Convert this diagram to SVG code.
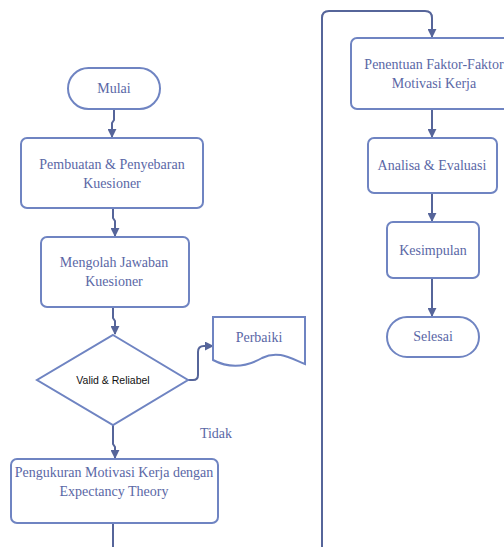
<svg xmlns="http://www.w3.org/2000/svg" width="504" height="547" viewBox="0 0 504 547">
  <style>
    .shape { fill: #ffffff; stroke: #6f84c2; stroke-width: 2; }
    .conn { fill: none; stroke: #56659a; stroke-width: 2; }
    .lbl { font-family: 'Liberation Serif', 'Times New Roman', 'DejaVu Serif', serif; font-size: 14px; fill: #5a67a6; text-anchor: middle; }
    .dlbl { font-family: 'Liberation Sans', Arial, sans-serif; font-size: 10.5px; fill: #111111; text-anchor: middle; }
  </style>
  <defs>
    <marker id="arrow" viewBox="0 0 10 10" refX="9" refY="5" markerWidth="4.5" markerHeight="4.5" orient="auto">
      <path d="M0,0 L10,5 L0,10 z" fill="#56659a"/>
    </marker>
  </defs>

  <g id="connectors">
    <path class="conn" d="M114,109 V120 L112,123 V137" marker-end="url(#arrow)"/>
    <path class="conn" d="M113,208 V218 L115,221 V236" marker-end="url(#arrow)"/>
    <path class="conn" d="M113,307 V318 L115,321 V334" marker-end="url(#arrow)"/>
    <path class="conn" d="M188,380 H193 Q198,380 198,375 V352 Q198,346 204,346 H213" marker-end="url(#arrow)"/>
    <path class="conn" d="M113,425 V444 L115,447 V458" marker-end="url(#arrow)"/>
    <path class="conn" d="M113,523 V547"/>
    <path class="conn" d="M322,547 V18 Q322,11 329,11 H425 Q432,11 432,18 V37" marker-end="url(#arrow)"/>
    <path class="conn" d="M432,109 V137" marker-end="url(#arrow)"/>
    <path class="conn" d="M432,193 V221" marker-end="url(#arrow)"/>
    <path class="conn" d="M432,278 V316" marker-end="url(#arrow)"/>
  </g>

  <g id="mulai">
    <rect class="shape" x="68" y="68" width="92" height="41" rx="20.5"/>
    <text class="lbl" x="114" y="93" font-family="Liberation Serif, serif">Mulai</text>
  </g>

  <g id="pembuatan">
    <rect class="shape" x="21" y="138" width="182" height="70" rx="6"/>
    <text class="lbl" x="112" y="169" font-family="Liberation Serif, serif">Pembuatan &amp; Penyebaran</text>
    <text class="lbl" x="112" y="188" font-family="Liberation Serif, serif">Kuesioner</text>
  </g>

  <g id="mengolah">
    <rect class="shape" x="41" y="237" width="148" height="70" rx="6"/>
    <text class="lbl" x="114" y="267" font-family="Liberation Serif, serif">Mengolah Jawaban</text>
    <text class="lbl" x="114" y="286" font-family="Liberation Serif, serif">Kuesioner</text>
  </g>

  <g id="valid">
    <polygon class="shape" points="113,335 188,380 113,425 37,380"/>
    <text class="dlbl" x="113" y="384">Valid &amp; Reliabel</text>
  </g>

  <g id="perbaiki">
    <path class="shape" d="M213,317 H305 V364 C290,358 278,350 262,358 C248,366 232,370 213,360 Z"/>
    <text class="lbl" x="259" y="342" font-family="Liberation Serif, serif">Perbaiki</text>
  </g>

  <g id="tidak">
    <text class="lbl" x="216" y="438" font-family="Liberation Serif, serif">Tidak</text>
  </g>

  <g id="pengukuran">
    <rect class="shape" x="11" y="459" width="207" height="64" rx="6"/>
    <text class="lbl" x="114" y="477" font-family="Liberation Serif, serif">Pengukuran Motivasi Kerja dengan</text>
    <text class="lbl" x="114" y="496" font-family="Liberation Serif, serif">Expectancy Theory</text>
  </g>

  <g id="penentuan">
    <rect class="shape" x="351" y="38" width="166" height="71" rx="6"/>
    <text class="lbl" x="434" y="69" font-family="Liberation Serif, serif">Penentuan Faktor-Faktor</text>
    <text class="lbl" x="434" y="88" font-family="Liberation Serif, serif">Motivasi Kerja</text>
  </g>

  <g id="analisa">
    <rect class="shape" x="368" y="138" width="129" height="55" rx="6"/>
    <text class="lbl" x="432" y="170" font-family="Liberation Serif, serif">Analisa &amp; Evaluasi</text>
  </g>

  <g id="kesimpulan">
    <rect class="shape" x="387" y="222" width="92" height="56" rx="6"/>
    <text class="lbl" x="433" y="255" font-family="Liberation Serif, serif">Kesimpulan</text>
  </g>

  <g id="selesai">
    <rect class="shape" x="387" y="317" width="92" height="40" rx="20"/>
    <text class="lbl" x="433" y="341" font-family="Liberation Serif, serif">Selesai</text>
  </g>
</svg>
